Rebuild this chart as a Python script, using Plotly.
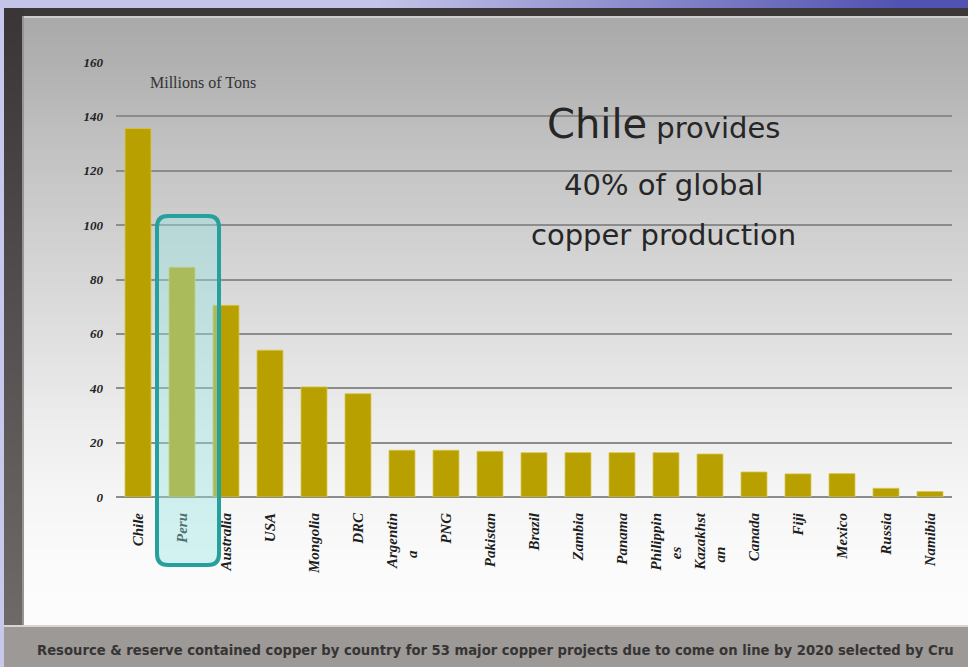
import base64, struct, zlib
import numpy as np
import plotly.graph_objects as go

# ---------------- data ----------------
countries = ["Chile", "Peru", "Australia", "USA", "Mongolia", "DRC", "Argentina",
             "PNG", "Pakistan", "Brazil", "Zambia", "Panama", "Philippines",
             "Kazakhstan", "Canada", "Fiji", "Mexico", "Russia", "Namibia"]
NB = "\u00a0"
tick_labels = ["Chile", "Peru", "Australia", "USA", "Mongolia", "DRC",
               "Argentin<br>a" + NB * 10,
               "PNG", "Pakistan", "Brazil", "Zambia", "Panama",
               "Philippin<br>es" + NB * 9,
               "Kazakhst<br>an" + NB * 9,
               "Canada", "Fiji", "Mexico", "Russia", "Namibia"]
copper_mt = [135.5, 84.5, 70.5, 54, 40.5, 38, 17.2, 17.2, 16.8, 16.3, 16.3, 16.3,
             16.3, 15.8, 9.2, 8.5, 8.6, 3.2, 2.0]
y_ticks = [0, 20, 40, 60, 80, 100, 120, 140, 160]

# ---------------- geometry ----------------
W, H = 968, 667
ML, MR, MT, MB = 116, 16, 62, 170
PW, PH = W - ML - MR, H - MT - MB


def px(xp):
    return (xp - ML) / PW


def py(yp):
    return (H - MB - yp) / PH


# ---------------- background image ----------------
def make_png(arr):
    h, w, _ = arr.shape
    raw = b"".join(b"\x00" + arr[r].tobytes() for r in range(h))

    def chunk(t, d):
        c = struct.pack(">I", len(d)) + t + d
        return c + struct.pack(">I", zlib.crc32(t + d) & 0xFFFFFFFF)

    return (b"\x89PNG\r\n\x1a\n"
            + chunk(b"IHDR", struct.pack(">IIBBBBB", w, h, 8, 2, 0, 0, 0))
            + chunk(b"IDAT", zlib.compress(raw, 9))
            + chunk(b"IEND", b""))


xs = np.arange(W)
ys = np.arange(H)
img = np.zeros((H, W, 3), float)
lav_l = np.array([196, 196, 232.0])
lav_r = np.array([82, 82, 178.0])
t = np.clip((xs - 380) / 520.0, 0, 1)[:, None]
img[:, :, :] = (lav_l * (1 - t) + lav_r * t)[None, :, :]
img[8:, :4] = [200, 200, 236]
# dark frame
img[8:627, 4:] = [60, 56, 56]
fr = np.interp(ys[8:627], [8, 620], [0, 1])[:, None, None]
img[8:627, 4:24] = np.array([58, 54, 54.0]) * (1 - fr) + np.array([110, 106, 104.0]) * fr
img[16:625, 22:24] = [150, 148, 148]
# panel gradient
g = np.interp(ys, [16, 62, 130, 225, 330, 420, 497, 560, 625],
              [170, 177, 191, 207, 223, 237, 246, 251, 253])
panel = np.repeat(g[16:625, None], W - 24, axis=1)
img[16:625, 24:] = panel[:, :, None]
img[16:18, 24:] = [205, 205, 205]
# bottom band
img[625:627, 4:] = [215, 213, 211]
img[627:, 4:] = [156, 153, 150]
img = np.clip(img, 0, 255).astype(np.uint8)
bg_src = "data:image/png;base64," + base64.b64encode(make_png(img)).decode()

# ---------------- figure ----------------
fig = go.Figure()
fig.add_trace(go.Bar(
    x=countries, y=copper_mt,
    marker=dict(color="#b8a000", line=dict(color="#d6c64a", width=0.8)),
    hoverinfo="x+y",
))

fig.add_layout_image(dict(
    source=bg_src, xref="paper", yref="paper",
    x=px(0), y=py(0), sizex=W / PW, sizey=H / PH,
    xanchor="left", yanchor="top", sizing="stretch", layer="below",
))

# rounded highlight around Peru
x0, x1 = px(157), px(219)
y0, y1 = py(565), py(216)
rx, ry = 11 / PW, 11 / PH
path = (f"M {x0+rx},{y1} L {x1-rx},{y1} Q {x1},{y1} {x1},{y1-ry} "
        f"L {x1},{y0+ry} Q {x1},{y0} {x1-rx},{y0} L {x0+rx},{y0} "
        f"Q {x0},{y0} {x0},{y0+ry} L {x0},{y1-ry} Q {x0},{y1} {x0+rx},{y1} Z")
fig.add_shape(type="path", path=path, xref="paper", yref="paper",
              line=dict(color="#26a09c", width=4),
              fillcolor="rgba(150,228,228,0.40)", layer="above")

fig.add_annotation(text="Millions of Tons", xref="paper", yref="y",
                   x=px(148), y=152.6, xanchor="left", yanchor="middle",
                   showarrow=False,
                   font=dict(family="Liberation Serif", size=16, color="#333333"))
fig.add_annotation(text="<span style='font-size:40px'>Chile</span> provides",
                   xref="paper", yref="y", x=px(663), y=137.2,
                   xanchor="center", yanchor="middle", showarrow=False,
                   font=dict(family="DejaVu Sans", size=29, color="#262626"))
fig.add_annotation(text="40% of global", xref="paper", yref="y", x=px(663), y=114.7,
                   xanchor="center", yanchor="middle", showarrow=False,
                   font=dict(family="DejaVu Sans", size=29, color="#262626"))
fig.add_annotation(text="copper production", xref="paper", yref="y", x=px(663), y=96.4,
                   xanchor="center", yanchor="middle", showarrow=False,
                   font=dict(family="DejaVu Sans", size=29, color="#262626"))
fig.add_annotation(
    text="Resource &amp; reserve contained copper by country for 53 major copper projects due to come on line by 2020 selected by Cru",
    xref="paper", yref="paper", x=px(35), y=py(650), xanchor="left", yanchor="middle",
    showarrow=False, font=dict(family="DejaVu Sans", size=13.2, color="#363434", weight="bold"))

fig.update_layout(
    width=W, height=H,
    margin=dict(l=ML, r=MR, t=MT, b=MB, pad=0),
    paper_bgcolor="rgba(0,0,0,0)", plot_bgcolor="rgba(0,0,0,0)",
    bargap=0.41, showlegend=False,
)
fig.update_xaxes(
    type="category", tickmode="array", tickvals=countries, ticktext=tick_labels,
    tickangle=-90, ticklabelstandoff=12, showgrid=False, showline=False, ticks="",
    tickfont=dict(family="Liberation Serif", size=15, color="#1e1e1e",
                  weight="bold", style="italic"),
)
fig.update_yaxes(
    range=[0, 160], tickmode="array", tickvals=y_ticks,
    showgrid=True, gridcolor="#8c8c8c", gridwidth=1.5,
    zeroline=True, zerolinecolor="#8c8c8c", zerolinewidth=1.5,
    showline=False, ticks="", ticklabelstandoff=12,
    tickfont=dict(family="Liberation Serif", size=13, color="#222222",
                  weight="bold", style="italic"),
)

fig.write_html("out.html", config={"displayModeBar": False},
               post_script="document.body.style.margin='0';document.body.style.overflow='hidden';")
